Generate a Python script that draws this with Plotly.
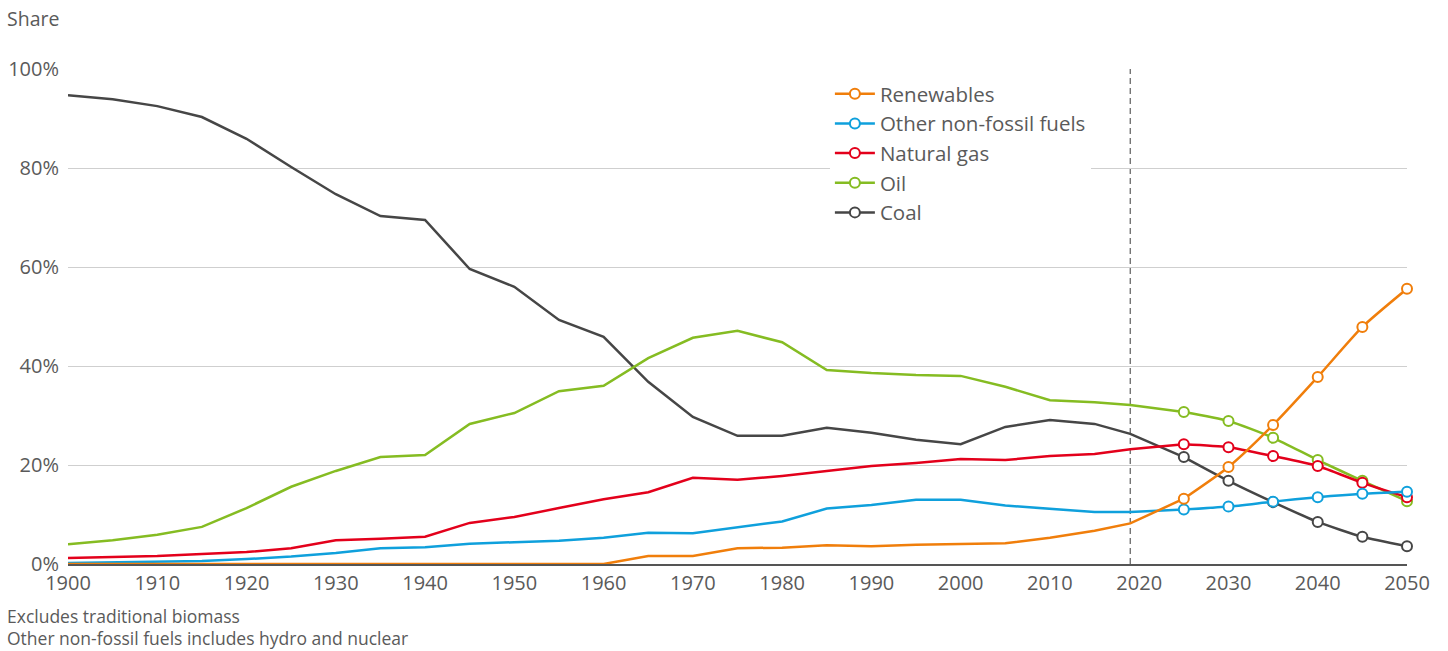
import plotly.graph_objects as go

years_hist = [1900, 1905, 1910, 1915, 1920, 1925, 1930, 1935, 1940, 1945, 1950, 1955,
              1960, 1965, 1970, 1975, 1980, 1985, 1990, 1995, 2000, 2005, 2010, 2015, 2019]
years_proj = [2025, 2030, 2035, 2040, 2045, 2050]

coal_hist = [94.7, 93.9, 92.5, 90.3, 85.9, 80.2, 74.7, 70.3, 69.5, 59.6, 56.0, 49.3,
             45.9, 36.8, 29.7, 25.9, 25.9, 27.5, 26.5, 25.1, 24.2, 27.7, 29.1, 28.3, 26.3]
coal_proj = [21.6, 16.8, 12.5, 8.5, 5.5, 3.6]

oil_hist = [4.0, 4.8, 5.9, 7.5, 11.3, 15.6, 18.8, 21.6, 22.0, 28.3, 30.5, 34.9,
            36.0, 41.6, 45.7, 47.1, 44.8, 39.2, 38.6, 38.2, 38.0, 35.8, 33.1, 32.7, 32.1]
oil_proj = [30.7, 28.9, 25.5, 21.0, 16.8, 12.7]

gas_hist = [1.2, 1.4, 1.6, 2.0, 2.4, 3.2, 4.8, 5.1, 5.5, 8.3, 9.5, 11.3,
            13.1, 14.5, 17.4, 17.0, 17.8, 18.8, 19.8, 20.4, 21.2, 21.0, 21.8, 22.2, 23.2]
gas_proj = [24.2, 23.6, 21.8, 19.8, 16.4, 13.5]

other_hist = [0.2, 0.3, 0.4, 0.6, 1.0, 1.5, 2.2, 3.2, 3.4, 4.1, 4.4, 4.7,
              5.3, 6.3, 6.2, 7.4, 8.6, 11.2, 11.9, 13.0, 13.0, 11.8, 11.2, 10.5, 10.5]
other_proj = [11.0, 11.6, 12.6, 13.5, 14.2, 14.6]

renew_hist = [0, 0, 0, 0, 0, 0, 0, 0, 0, 0, 0, 0,
              0, 1.6, 1.6, 3.2, 3.3, 3.8, 3.6, 3.9, 4.0, 4.2, 5.3, 6.7, 8.2]
renew_proj = [13.2, 19.6, 28.1, 37.8, 47.9, 55.6]

series = [
    ("Coal", coal_hist, coal_proj, "#464646", 5),
    ("Oil", oil_hist, oil_proj, "#85BC22", 4),
    ("Natural gas", gas_hist, gas_proj, "#E3001B", 3),
    ("Other non-fossil fuels", other_hist, other_proj, "#0FA0DC", 2),
    ("Renewables", renew_hist, renew_proj, "#F07E0B", 1),
]

y_ticks = [0, 20, 40, 60, 80, 100]
y_tick_labels = ["0%", "20%", "40%", "60%", "80%", "100%"]
x_ticks = [1900, 1910, 1920, 1930, 1940, 1950, 1960, 1970, 1980, 1990, 2000, 2010, 2020, 2030, 2040, 2050]
forecast_start = 2019

FONT = "'Open Sans', Roboto, 'Liberation Sans', sans-serif"
TXT = "#5a5a5a"

fig = go.Figure()
for name, hist, proj, color, rank in series:
    fig.add_trace(go.Scatter(
        x=years_hist + years_proj[:1], y=hist + proj[:1], mode="lines",
        line=dict(color=color, width=2.5), showlegend=False, hoverinfo="skip",
        cliponaxis=False,
    ))
for name, hist, proj, color, rank in series:
    fig.add_trace(go.Scatter(
        x=years_proj, y=proj, mode="lines+markers", name=name,
        line=dict(color=color, width=2.5, shape="spline", smoothing=0.6),
        marker=dict(symbol="circle", size=10, color="white", line=dict(color=color, width=2)),
        legendrank=rank, cliponaxis=False,
    ))

fig.add_shape(type="line", x0=forecast_start, x1=forecast_start, y0=0, y1=100,
              xref="x", yref="y", line=dict(color="#6a6a6a", width=1.3, dash="6px,4px"),
              layer="below")

fig.update_layout(
    width=1448, height=651,
    margin=dict(l=68, r=41, t=69, b=87, autoexpand=False),
    paper_bgcolor="white", plot_bgcolor="white",
    font=dict(family=FONT, color=TXT, size=20),
    title=dict(text="Share", x=7 / 1448, xref="container", xanchor="left",
               y=1 - 19 / 651, yref="container", yanchor="middle",
               font=dict(size=19.5, color=TXT, family=FONT)),
    xaxis=dict(range=[1900, 2050], tickvals=x_ticks, showgrid=False, zeroline=False,
               showline=True, linecolor="#555555", linewidth=2, ticks="",
               tickfont=dict(size=20, color=TXT), layer="below traces", automargin=False),
    yaxis=dict(range=[0, 100], tickvals=y_ticks, ticktext=y_tick_labels, showgrid=True,
               gridcolor="#cfcfcf", gridwidth=1, zeroline=False, showline=False,
               ticks="", tickfont=dict(size=20, color=TXT), layer="below traces",
               ticklabelstandoff=8, automargin=False),
    legend=dict(x=0.569, y=0.99, xanchor="left", yanchor="top", bgcolor="white",
                font=dict(size=20.5, color=TXT), traceorder="normal",
                itemwidth=40, tracegroupgap=0),
    showlegend=True,
)

fig.add_annotation(text="Excludes traditional biomass", xref="paper", yref="paper",
                   x=-63 / 1339, y=(564 - 616) / 495, xanchor="left", yanchor="middle",
                   showarrow=False, font=dict(size=17.5, color=TXT))
fig.add_annotation(text="Other non-fossil fuels includes hydro and nuclear", xref="paper", yref="paper",
                   x=-63 / 1339, y=(564 - 638) / 495, xanchor="left", yanchor="middle",
                   showarrow=False, font=dict(size=17.5, color=TXT))

fig.write_html("out.html", config={"displayModeBar": False},
               post_script="document.body.style.margin='0';document.body.style.padding='0';")
